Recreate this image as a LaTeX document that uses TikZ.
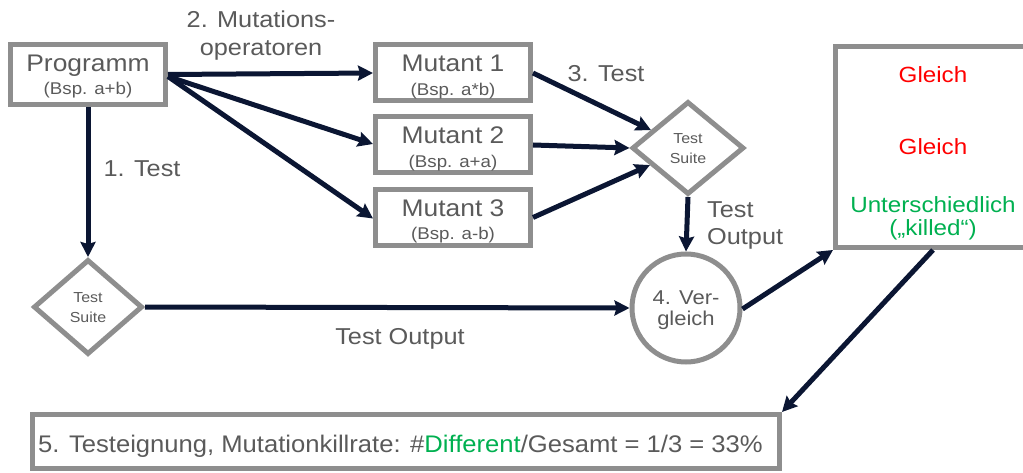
\documentclass[tikz,border=0pt]{standalone}
\usepackage{fontspec}
\setmainfont{Liberation Sans}[FakeStretch=1.1]
\usetikzlibrary{shapes.geometric,arrows.meta}
\definecolor{boxgray}{HTML}{8E8E8E}
\definecolor{txtgray}{HTML}{5A5A5A}
\definecolor{arrowblue}{HTML}{0B1633}
\definecolor{myred}{HTML}{FF0000}
\definecolor{mygreen}{HTML}{00B050}
\tikzset{
  box/.style={draw=boxgray, line width=5pt, rectangle, inner sep=0pt, align=center, text=txtgray, font=\fontsize{24}{23}\selectfont},
  suite/.style={draw=boxgray, line width=5pt, diamond, inner sep=0pt, align=center, text=txtgray, font=\fontsize{14.5}{19}\selectfont},
  cmpc/.style={draw=boxgray, line width=5pt, circle, inner sep=0pt, align=center, text=txtgray, font=\fontsize{20}{21}\selectfont},
  conn/.style={draw=arrowblue, line width=5pt, -{Stealth[length=15pt,width=15pt,inset=2pt]}},
  lbl/.style={text=txtgray, align=center, inner sep=0pt, font=\fontsize{23}{28}\selectfont},
  res/.style={align=center, inner sep=0pt, font=\fontsize{22}{23}\selectfont},
}
\begin{document}
\begin{tikzpicture}[x=1pt,y=-1pt]
\useasboundingbox (0,0) rectangle (1023,473);
% nodes
\node[box, minimum width=155pt, minimum height=60pt] (prog) at (88,74.5) {};
\node[box, minimum width=155pt, minimum height=56pt] (m1) at (453,73) {};
\node[box, minimum width=155pt, minimum height=56pt] (m2) at (453,145) {};
\node[box, minimum width=155pt, minimum height=56pt] (m3) at (453,217.5) {};
\node[suite, minimum width=112pt, minimum height=93pt] (ts2) at (688,148) {};
\node[suite, minimum width=109pt, minimum height=95pt] (ts1) at (88,307) {};
\node[cmpc, minimum size=108pt] (cmp) at (686,308) {};
\node[box, minimum width=210pt, minimum height=201pt] (res) at (940.5,147) {};
\node[box, minimum width=747pt, minimum height=54pt] (bot) at (406,441.5) {};
% texts in boxes
\node[box, draw=none, anchor=base] (prog-t1) at (88,72) {Programm};
\node[box, draw=none, anchor=base, font=\fontsize{17}{20}\selectfont] (prog-t2) at (88,95) {(Bsp. a+b)};
\node[box, draw=none, anchor=base] (m1-t1) at (453,72) {Mutant 1};
\node[box, draw=none, anchor=base, font=\fontsize{17}{20}\selectfont] (m1-t2) at (453,96) {(Bsp. a*b)};
\node[box, draw=none, anchor=base] (m2-t1) at (453,144) {Mutant 2};
\node[box, draw=none, anchor=base, font=\fontsize{17}{20}\selectfont] (m2-t2) at (453,168) {(Bsp. a+a)};
\node[box, draw=none, anchor=base] (m3-t1) at (453,217) {Mutant 3};
\node[box, draw=none, anchor=base, font=\fontsize{17}{20}\selectfont] (m3-t2) at (453,240) {(Bsp. a-b)};
\node[suite, draw=none, anchor=base] (ts2-t1) at (688,144) {Test};
\node[suite, draw=none, anchor=base] (ts2-t2) at (688,164) {Suite};
\node[suite, draw=none, anchor=base] (ts1-t1) at (88,302) {Test};
\node[suite, draw=none, anchor=base] (ts1-t2) at (88,322) {Suite};
\node[cmpc, draw=none, anchor=base] (cmp-t1) at (686,304) {4. Ver-};
\node[cmpc, draw=none, anchor=base] (cmp-t2) at (686,325) {gleich};
% texts in result box
\node[res, text=myred, anchor=base] (g1) at (933,83) {Gleich};
\node[res, text=myred, anchor=base] (g2) at (933,155) {Gleich};
\node[res, text=mygreen, anchor=base] (u1) at (933,213) {Unterschiedlich};
\node[res, text=mygreen, anchor=base] (u2) at (933,236) {(„killed“)};
% bottom text
\node[lbl, anchor=base west] (bt) at (38,452) {\scalebox{0.97}[1]{\fontsize{24}{26}\selectfont 5. Testeignung, Mutationkillrate: \#\textcolor{mygreen}{Different}/Gesamt = 1/3 = 33\%}};
% labels
\node[lbl, anchor=base] (l2a) at (261,28) {2. Mutations-};
\node[lbl, anchor=base] (l2b) at (261,56) {operatoren};
\node[lbl, anchor=base] (l1) at (142,177) {1. Test};
\node[lbl, anchor=base] (l3) at (606,82) {3. Test};
\node[lbl, anchor=base west] (l4a) at (707,218) {Test};
\node[lbl, anchor=base west] (l4b) at (707,244) {Output};
\node[lbl, anchor=base] (l5) at (400,344) {Test Output};
% connectors
\draw[conn] (prog.east) -- (m1.west);
\draw[conn] ([yshift=-2pt]prog.east) -- ([yshift=1pt]m2.west);
\draw[conn] ([yshift=-2pt]prog.east) -- ([yshift=-1pt]m3.west);
\draw[conn] (prog.south) -- (ts1.north);
\draw[conn] (m1.east) -- (ts2);
\draw[conn] (m2.east) -- (ts2.west);
\draw[conn] (m3.east) -- (ts2);
\draw[conn] (ts2.south) -- (cmp.north);
\draw[conn] (ts1.east) -- (cmp.west);
\coordinate (cmpout) at ([yshift=-1pt]cmp.east);
\draw[conn] (cmpout) -- (res.south west);
\coordinate (resout) at (933,250);
\draw[conn] (resout) -- (bot.north east);
\end{tikzpicture}
\end{document}
